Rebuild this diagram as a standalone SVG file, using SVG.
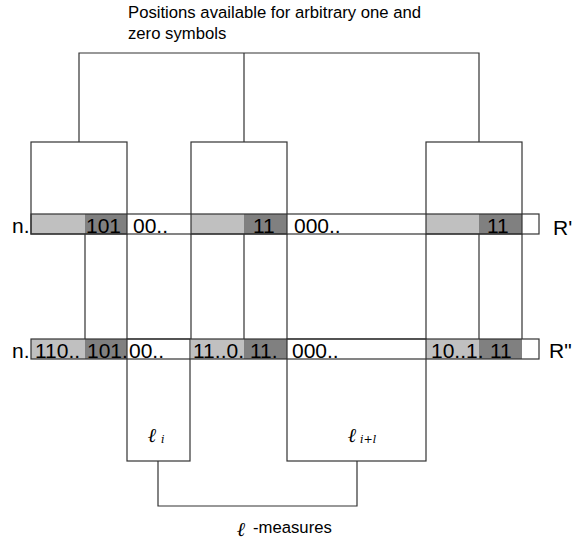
<svg xmlns="http://www.w3.org/2000/svg" width="574" height="542" viewBox="0 0 574 542">
<style>
.ln{fill:none;stroke:#333;stroke-width:1.2}
.lt{fill:#c0c0c0}
.dk{fill:#808080}
.cell{font-family:"Liberation Sans",Arial,sans-serif;font-size:21px;fill:#000}
.lab{font-family:"Liberation Sans",Arial,sans-serif;font-size:16.7px;fill:#000}
.ell{font-family:"DejaVu Serif",serif;font-style:italic;font-weight:bold;font-size:20px;fill:#000}
.sub{font-family:"DejaVu Serif",serif;font-style:italic;font-size:11px;fill:#000}
</style>
<rect width="574" height="542" fill="#fff"/>
<g id="title">
<text class="lab" x="128" y="18">Positions available for arbitrary one and</text>
<text class="lab" x="128" y="39">zero symbols</text>
</g>
<g id="row-r1">
<rect class="lt" x="31" y="214" width="54" height="20"/>
<rect class="dk" x="85" y="214" width="42" height="20"/>
<rect class="lt" x="191" y="214" width="53" height="20"/>
<rect class="dk" x="244" y="214" width="43" height="20"/>
<rect class="lt" x="426" y="214" width="53" height="20"/>
<rect class="dk" x="479" y="214" width="43" height="20"/>
<rect class="ln" x="31" y="214" width="508" height="20"/>
<text class="cell" x="12" y="233">n.</text>
<text class="cell" x="86" y="233">101</text>
<text class="cell" x="133" y="233">00..</text>
<text class="cell" x="253" y="233">11</text>
<text class="cell" x="294" y="233">000..</text>
<text class="cell" x="487" y="233">11</text>
<text class="cell" x="553" y="235">R'</text>
</g>
<g id="row-r2">
<rect class="lt" x="31" y="339" width="54" height="20"/>
<rect class="dk" x="85" y="339" width="42" height="20"/>
<rect class="lt" x="191" y="339" width="53" height="20"/>
<rect class="dk" x="244" y="339" width="43" height="20"/>
<rect class="lt" x="426" y="339" width="53" height="20"/>
<rect class="dk" x="479" y="339" width="43" height="20"/>
<rect class="ln" x="31" y="339" width="508" height="20"/>
<text class="cell" x="12" y="358">n.</text>
<text class="cell" x="35" y="358">110..</text>
<text class="cell" x="87" y="358">101.</text>
<text class="cell" x="129" y="358">00..</text>
<text class="cell" x="193" y="358">11..0.</text>
<text class="cell" x="250" y="358">11.</text>
<text class="cell" x="292" y="358">000..</text>
<text class="cell" x="431" y="358">10..1.</text>
<text class="cell" x="490" y="358">11</text>
<text class="cell" x="549" y="358">R"</text>
</g>
<g id="box-top-1"><rect class="ln" x="31" y="142" width="96" height="92"/></g>
<g id="box-top-2"><rect class="ln" x="191" y="142" width="96" height="92"/></g>
<g id="box-top-3"><rect class="ln" x="426" y="142" width="96" height="92"/></g>
<g id="box-li">
<rect class="ln" x="127" y="339" width="63" height="122"/>
<text class="ell" x="148" y="442">ℓ</text><text class="sub" x="161" y="443">i</text>
</g>
<g id="box-li1">
<rect class="ln" x="287" y="339" width="139" height="122"/>
<text class="ell" x="348" y="442">ℓ</text><text class="sub" x="360" y="443">i+l</text>
</g>
<g id="measures">
<text class="ell" x="237" y="536">ℓ</text>
<text class="lab" x="253" y="533">-measures</text>
</g>
<g id="connectors" class="ln">
<path d="M79 142V53H479V142M244 53V142"/>
<path d="M158 461V506H357V461"/>
<path d="M85 234V339M127 234V339M191 234V339M244 234V339M287 234V339M426 234V339M479 234V339M522 234V339"/>
</g>
</svg>
